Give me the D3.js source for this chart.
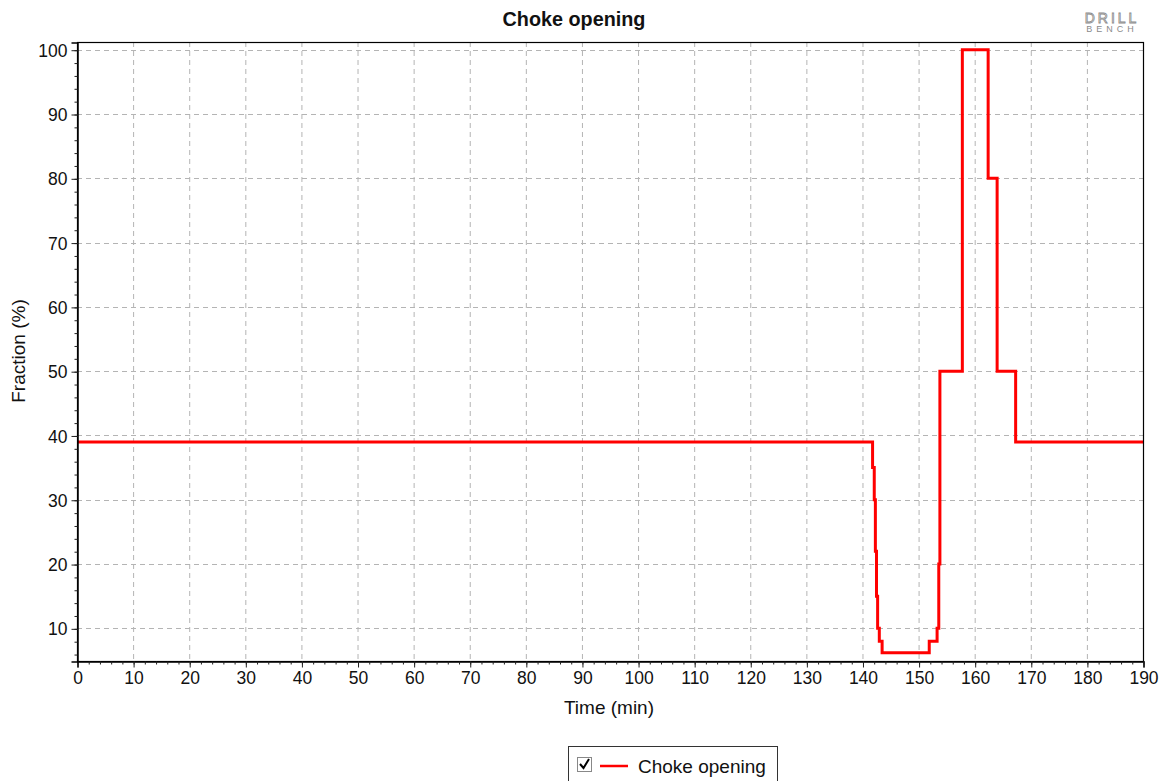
<!DOCTYPE html>
<html><head><meta charset="utf-8">
<script src="https://cdn.jsdelivr.net/npm/d3@7"></script>
<style>
body{margin:0;background:#fff;}
text{font-family:Arial,"Liberation Sans",sans-serif;}
</style></head>
<body><svg id="c" width="1164" height="781"></svg>
<script>
const title = "Choke opening";
const xLabel = "Time (min)";
const yLabel = "Fraction (%)";
const seriesName = "Choke opening";
const times  = [0, 141.8, 142.1, 142.3, 142.5, 142.7, 143.0, 143.5, 151.9, 153.3, 153.6, 153.8, 157.8, 162.4, 164.0, 167.3, 190];
const values = [39, 35, 30, 22, 15, 10, 8, 6.2, 8, 10, 20, 50, 100, 80, 50, 39, 39];
const xTicks = d3.range(0, 191, 10);
const yTicks = d3.range(10, 101, 10);
const xMinor = d3.range(0, 191, 2);
const yMinor = d3.range(6, 101, 2);

const svg = d3.select("#c");
const L = 77, R = 1143, T = 42, B = 661;
const x = d3.scaleLinear().domain([0, 190]).range([L, R]);
const y = d3.scaleLinear().domain([4.92, 101.2]).range([B, T]);

// grid
const g = svg.append("g");
g.selectAll(".gx").data(xTicks.filter(d => d > 0 && d < 190)).join("line")
  .attr("x1", d => x(d) + 0.5).attr("x2", d => x(d) + 0.5).attr("y1", T).attr("y2", B)
  .attr("stroke", "#b4b4b4").attr("stroke-dasharray", "5,4");
g.selectAll(".gy").data(yTicks).join("line")
  .attr("y1", d => Math.round(y(d)) + 0.5).attr("y2", d => Math.round(y(d)) + 0.5).attr("x1", L).attr("x2", R)
  .attr("stroke", "#b4b4b4").attr("stroke-dasharray", "5,4");

// line
const pts = times.map((t, i) => [t, values[i]]);
svg.append("path").datum(pts)
  .attr("d", d3.line().x(d => x(d[0])).y(d => y(d[1])).curve(d3.curveStepAfter))
  .attr("fill", "none").attr("stroke", "#ff0000").attr("stroke-width", 3);

// frame
svg.append("rect").attr("x", L + 0.5).attr("y", T + 0.5).attr("width", R - L).attr("height", B - T)
  .attr("fill", "none").attr("stroke", "#000").attr("stroke-width", 1.2);

// axes
const xAxis = d3.axisBottom(x).tickValues(xTicks).tickSize(6).tickPadding(4).tickFormat(d3.format("d"));
const xa = svg.append("g").attr("transform", `translate(0.5,${B + 0.5})`).call(xAxis);
const xMinorAxis = d3.axisBottom(x).tickValues(xMinor).tickSize(3).tickFormat("");
svg.append("g").attr("transform", `translate(0.5,${B + 0.5})`).call(xMinorAxis).select(".domain").remove();
const yAxis = d3.axisLeft(y).tickValues(yTicks).tickSize(6).tickPadding(4).tickFormat(d3.format("d"));
const ya = svg.append("g").attr("transform", `translate(${L + 0.5},0.5)`).call(yAxis);
const yMinorAxis = d3.axisLeft(y).tickValues(yMinor).tickSize(3).tickFormat("");
svg.append("g").attr("transform", `translate(${L + 0.5},0.5)`).call(yMinorAxis).select(".domain").remove();
svg.selectAll(".domain").attr("stroke", "#000").attr("stroke-width", 1.5);
svg.selectAll(".tick line").attr("stroke", "#222");
xa.selectAll("text").attr("font-size", 17.5).attr("fill", "#111").attr("font-family", "Arial, 'Liberation Sans', sans-serif");
ya.selectAll("text").attr("font-size", 17.5).attr("fill", "#111").attr("font-family", "Arial, 'Liberation Sans', sans-serif").attr("dy", "0.35em");

// labels
svg.append("text").attr("x", 574).attr("y", 26).attr("text-anchor", "middle")
  .attr("font-size", 19.8).attr("font-weight", "bold").attr("fill", "#111").text(title);
svg.append("text").attr("x", 609).attr("y", 714).attr("text-anchor", "middle")
  .attr("font-size", 19).attr("fill", "#111").text(xLabel);
svg.append("text").attr("transform", "translate(25,351) rotate(-90)").attr("text-anchor", "middle")
  .attr("font-size", 19).attr("fill", "#111").text(yLabel);

// logo
svg.append("text").attr("x", 1112).attr("y", 23).attr("text-anchor", "middle")
  .attr("font-size", 14).attr("fill", "none").attr("stroke", "#8a8a8a").attr("stroke-width", 0.8)
  .attr("letter-spacing", 3).text("DRILL");
svg.append("text").attr("x", 1112).attr("y", 32).attr("text-anchor", "middle")
  .attr("font-size", 9).attr("fill", "#8a8a8a").attr("letter-spacing", 4).text("BENCH");

// legend
const lg = svg.append("g");
lg.append("rect").attr("x", 568.5).attr("y", 746.5).attr("width", 209).attr("height", 40)
  .attr("fill", "#fff").attr("stroke", "#333");
lg.append("rect").attr("x", 577.5).attr("y", 757.5).attr("width", 14).attr("height", 14)
  .attr("fill", "#fff").attr("stroke", "#888");
lg.append("path").attr("d", "M580,764 L583.5,768 L589,759").attr("fill", "none").attr("stroke", "#000").attr("stroke-width", 2);
lg.append("line").attr("x1", 600).attr("x2", 628).attr("y1", 766).attr("y2", 766)
  .attr("stroke", "#ff0000").attr("stroke-width", 2.5);
lg.append("text").attr("x", 638).attr("y", 773).attr("font-size", 19).attr("fill", "#111").text(seriesName);
</script></body></html>
